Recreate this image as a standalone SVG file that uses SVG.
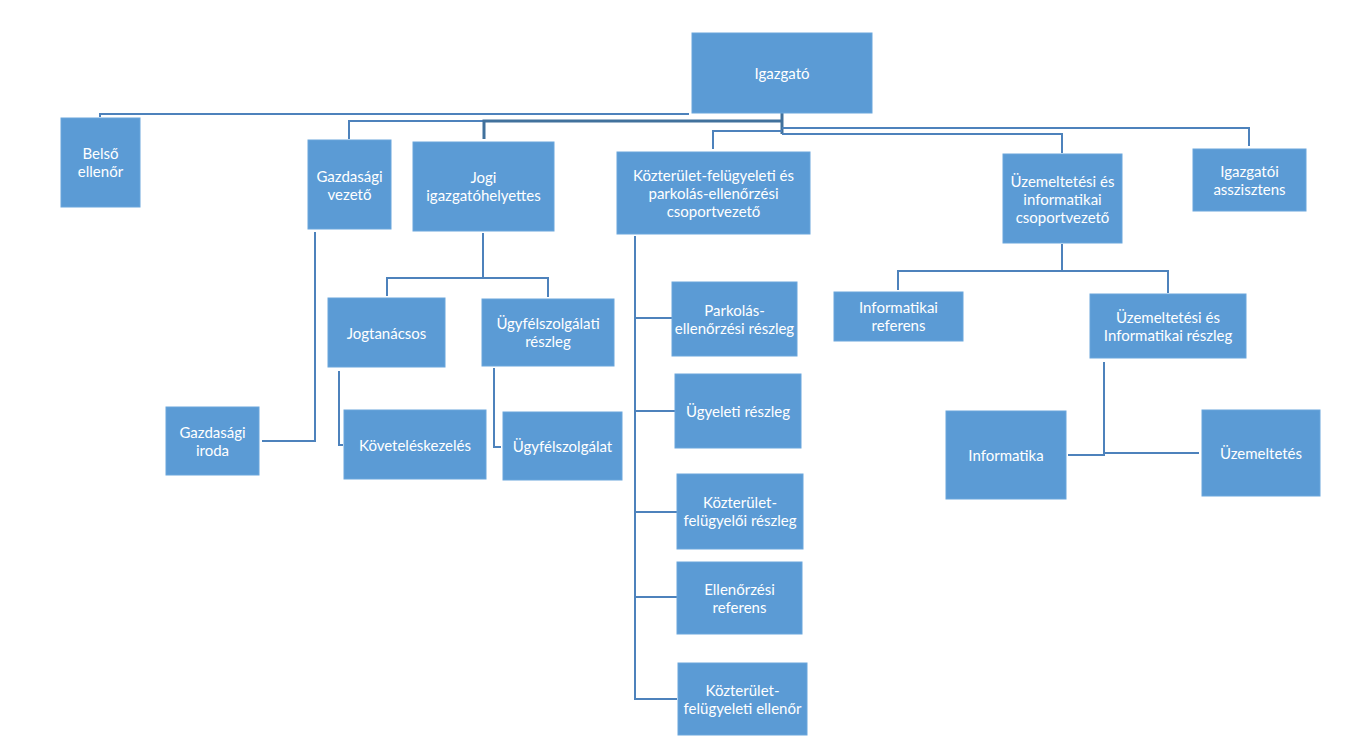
<svg xmlns="http://www.w3.org/2000/svg" width="1366" height="755" viewBox="0 0 1366 755">
<style>
.box{fill:#5b9bd5;stroke:#6aa6dc;stroke-width:1}
.t{fill:#ffffff;font-family:Lato,"Open Sans","Liberation Sans",sans-serif;font-size:15px;text-anchor:middle;dominant-baseline:central}
.c{fill:none;stroke:#4d82bc;stroke-width:2}
.ck{fill:none;stroke:#41719c;stroke-width:3}
</style>
<rect width="1366" height="755" fill="#ffffff"/>
<g id="connectors">
<path class="c" d="M100,117 V114 H689"/>
<path class="c" d="M349,139 V121 H484"/>
<path class="ck" d="M484,139 V121 H782"/>
<path class="ck" d="M782,112 V134"/>
<path class="c" d="M782,128 H1249 V146"/>
<path class="c" d="M782,134 H1062 V153"/>
<path class="c" d="M713,149 V131 H782"/>
<path class="c" d="M315,232 V441 H262"/>
<path class="c" d="M483,233 V278 M387,296 V278 H548 V297"/>
<path class="c" d="M339,371 V445 H343"/>
<path class="c" d="M494,368 V447 H501"/>
<path class="c" d="M635,236 V699 H677 M635,318 H672 M635,411 H675 M635,512 H677 M635,597 H677"/>
<path class="c" d="M1062,244 V271 M898,290 V271 H1168 V293"/>
<path class="c" d="M1104,362 V455 H1068 M1104,453 H1199"/>
</g>
<g id="igazgato"><rect class="box" x="692" y="33" width="180" height="80"/><text class="t" x="782" y="73">Igazgató</text></g>
<g id="belso-ellenor"><rect class="box" x="61" y="118" width="79" height="89"/><text class="t" x="100.5" y="153">Belső</text><text class="t" x="100.5" y="171">ellenőr</text></g>
<g id="gazdasagi-vezeto"><rect class="box" x="308" y="140" width="83" height="89"/><text class="t" x="349.5" y="176">Gazdasági</text><text class="t" x="349.5" y="194">vezető</text></g>
<g id="jogi-igazgatohelyettes"><rect class="box" x="413" y="142" width="141" height="89"/><text class="t" x="483.5" y="177">Jogi</text><text class="t" x="483.5" y="195">igazgatóhelyettes</text></g>
<g id="kozterulet-csoportvezeto"><rect class="box" x="617" y="152" width="193" height="82"/><text class="t" x="713.5" y="175">Közterület-felügyeleti és</text><text class="t" x="713.5" y="193">parkolás-ellenőrzési</text><text class="t" x="713.5" y="211">csoportvezető</text></g>
<g id="uzemeltetesi-csoportvezeto"><rect class="box" x="1003" y="154" width="119" height="89"/><text class="t" x="1062.5" y="181">Üzemeltetési és</text><text class="t" x="1062.5" y="199">informatikai</text><text class="t" x="1062.5" y="217">csoportvezető</text></g>
<g id="igazgatoi-asszisztens"><rect class="box" x="1193" y="149" width="113" height="62"/><text class="t" x="1249.5" y="171">Igazgatói</text><text class="t" x="1249.5" y="189">asszisztens</text></g>
<g id="gazdasagi-iroda"><rect class="box" x="166" y="407" width="93" height="68"/><text class="t" x="212.5" y="432">Gazdasági</text><text class="t" x="212.5" y="450">iroda</text></g>
<g id="jogtanacsos"><rect class="box" x="328" y="298" width="117" height="69"/><text class="t" x="386.5" y="332.5">Jogtanácsos</text></g>
<g id="ugyfelszolgalati-reszleg"><rect class="box" x="482" y="299" width="132" height="67"/><text class="t" x="548" y="323">Ügyfélszolgálati</text><text class="t" x="548" y="341">részleg</text></g>
<g id="kovetelesk"><rect class="box" x="344" y="410" width="142" height="69"/><text class="t" x="415" y="444.5">Követeléskezelés</text></g>
<g id="ugyfelszolgalat"><rect class="box" x="503" y="412" width="119" height="68"/><text class="t" x="562.5" y="446">Ügyfélszolgálat</text></g>
<g id="parkolas"><rect class="box" x="672" y="282" width="125" height="74"/><text class="t" x="734.5" y="310">Parkolás-</text><text class="t" x="734.5" y="328">ellenőrzési részleg</text></g>
<g id="ugyeleti"><rect class="box" x="675" y="374" width="126" height="74"/><text class="t" x="738" y="411">Ügyeleti részleg</text></g>
<g id="kozterulet-felugyeloi"><rect class="box" x="677" y="474" width="126" height="75"/><text class="t" x="740" y="502">Közterület-</text><text class="t" x="740" y="520">felügyelői részleg</text></g>
<g id="ellenorzesi-referens"><rect class="box" x="677" y="562" width="125" height="72"/><text class="t" x="739.5" y="589">Ellenőrzési</text><text class="t" x="739.5" y="607">referens</text></g>
<g id="kozterulet-ellenor"><rect class="box" x="678" y="663" width="129" height="72"/><text class="t" x="742.5" y="690">Közterület-</text><text class="t" x="742.5" y="708">felügyeleti ellenőr</text></g>
<g id="informatikai-referens"><rect class="box" x="834" y="292" width="129" height="49"/><text class="t" x="898.5" y="307">Informatikai</text><text class="t" x="898.5" y="325">referens</text></g>
<g id="uzemeltetesi-reszleg"><rect class="box" x="1090" y="294" width="156" height="64"/><text class="t" x="1168" y="317">Üzemeltetési és</text><text class="t" x="1168" y="335">Informatikai részleg</text></g>
<g id="informatika"><rect class="box" x="946" y="411" width="120" height="88"/><text class="t" x="1006" y="455">Informatika</text></g>
<g id="uzemeltetes"><rect class="box" x="1202" y="410" width="118" height="86"/><text class="t" x="1261" y="453">Üzemeltetés</text></g>
</svg>
